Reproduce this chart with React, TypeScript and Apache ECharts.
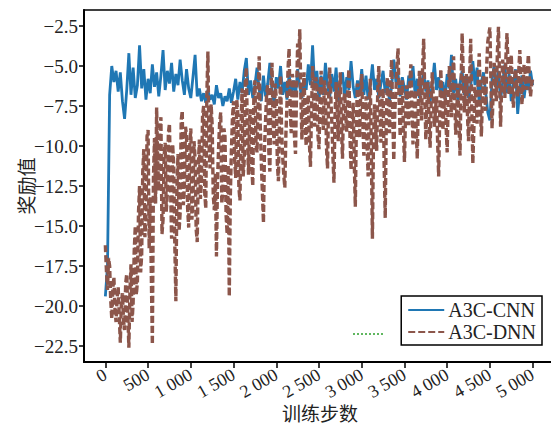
import React, { useEffect, useRef } from "react";
import * as echarts from "echarts";

const cnnValues: number[] = [
  -19.4, -17.5, -6.8, -5.0, -6.0, -5.3, -6.6, -5.4, -7.2, -8.3,
  -6.5, -4.2, -6.8, -5.1, -7.0, -6.2, -3.7, -6.4, -5.2, -7.1,
  -5.8, -6.7, -4.9, -6.3, -5.4, -6.9, -5.6, -4.0, -6.5, -5.3,
  -6.1, -4.8, -6.6, -5.5, -6.2, -4.6, -5.9, -6.8, -5.2, -6.4,
  -7.0, -5.7, -4.3, -6.9, -6.4, -7.2, -6.7, -7.3, -6.5, -7.1,
  -6.8, -7.4, -6.2, -7.0, -6.7, -7.5, -6.9, -7.2, -6.4, -7.3,
  -6.6, -5.8, -7.1, -6.0, -6.7, -5.3, -4.5, -6.8, -5.9, -7.0,
  -6.2, -5.1, -6.5, -7.2, -5.6, -6.9, -6.1, -4.8, -6.6, -7.3,
  -5.7, -6.4, -5.0, -6.8, -6.0, -7.1, -5.5, -6.7, -5.9, -6.9,
  -5.2, -6.3, -7.0, -5.8, -6.5, -4.9, -6.2, -3.7, -6.4, -5.3,
  -7.1, -5.6, -6.8, -4.8, -6.2, -7.0, -5.5, -6.6, -5.1, -7.2,
  -6.0, -5.4, -6.9, -5.7, -6.5, -4.7, -6.3, -7.0, -5.9, -6.6,
  -5.2, -6.8, -5.6, -7.1, -6.2, -4.9, -6.5, -5.8, -7.0, -6.1,
  -5.3, -6.7, -5.9, -7.2, -6.3, -4.6, -6.0, -5.5, -6.9, -5.7,
  -6.4, -7.1, -5.6, -6.2, -5.0, -6.8, -5.8, -7.0, -6.1, -5.4,
  -6.6, -5.9, -7.3, -6.2, -4.8, -6.5, -5.7, -6.9, -6.0, -7.1,
  -5.5, -6.4, -4.3, -6.7, -5.8, -7.2, -6.1, -5.3, -6.8, -5.6,
  -7.0, -6.3, -4.7, -6.2, -5.1, -7.4, -6.0, -5.4, -6.6, -7.9,
  -8.4, -5.8, -5.0, -6.5, -5.3, -7.1, -6.0, -4.9, -6.7, -5.5,
  -7.2, -6.1, -5.2, -8.0, -6.4, -5.6, -7.0, -5.9, -6.5, -5.3,
  -6.2,
];

const dnnValues: number[] = [
  -16.2, -17.8, -19.0, -17.0, -17.5, -19.6, -20.8, -18.9, -18.2, -20.2,
  -21.0, -19.5, -18.8, -20.6, -22.3, -19.8, -19.2, -20.9, -21.5, -18.6,
  -18.0, -20.4, -22.6, -19.1, -17.4, -21.0, -19.8, -16.6, -15.0, -19.3,
  -18.5, -14.2, -12.5, -17.9, -16.8, -11.6, -10.2, -15.7, -14.5, -9.4,
  -9.0, -16.4, -13.2, -18.0, -22.4, -12.0, -9.5, -13.6, -7.6, -11.0,
  -12.8, -9.1, -8.2, -15.5, -14.6, -10.6, -9.8, -14.1, -13.0, -9.2,
  -8.6, -12.4, -15.8, -9.9, -11.2, -16.1, -19.7, -12.7, -10.5, -15.3,
  -14.2, -8.4, -7.8, -13.7, -12.6, -8.8, -9.3, -13.9, -15.1, -10.0,
  -8.9, -14.6, -13.5, -9.7, -10.8, -15.2, -16.0, -11.3, -9.6, -13.3,
  -12.1, -8.1, -7.5, -12.9, -13.9, -6.8, -4.1, -9.9, -11.4, -7.4,
  -8.7, -13.1, -14.0, -11.7, -16.9, -12.2, -10.1, -8.5, -7.9, -13.6,
  -12.8, -8.9, -9.4, -14.3, -15.5, -11.2, -19.4, -13.1, -10.3, -8.2,
  -7.2, -10.8, -12.0, -7.1, -8.0, -12.6, -13.4, -8.6, -6.4, -11.9,
  -10.9, -6.0, -5.1, -9.4, -11.8, -8.3, -7.7, -11.2, -12.5, -7.0,
  -5.9, -9.8, -10.4, -6.9, -4.4, -8.7, -11.0, -12.9, -14.8, -10.1,
  -8.3, -6.7, -6.2, -10.3, -11.6, -6.4, -4.8, -8.5, -9.9, -6.1,
  -7.0, -11.1, -12.2, -8.0, -5.6, -9.0, -10.7, -11.8, -12.6, -9.3,
  -7.4, -5.2, -3.9, -7.6, -9.2, -5.5, -6.0, -9.4, -10.5, -6.6,
  -3.6, -4.8, -2.7, -6.9, -9.6, -7.1, -5.4, -8.6, -10.0, -7.6,
  -6.8, -9.8, -11.3, -7.7, -5.0, -7.2, -8.8, -5.7, -6.3, -9.3,
  -10.2, -6.9, -5.3, -7.8, -9.0, -5.9, -6.5, -10.1, -11.4, -7.0,
  -5.1, -6.8, -8.5, -10.6, -12.3, -8.1, -6.0, -7.5, -9.7, -6.6,
  -5.4, -8.9, -10.8, -7.2, -6.7, -8.0, -9.1, -6.3, -5.2, -9.4,
  -11.5, -8.7, -7.3, -11.0, -13.8, -8.5, -6.1, -7.7, -9.5, -6.8,
  -5.5, -8.6, -10.6, -7.9, -6.9, -9.9, -11.9, -7.5, -5.8, -10.4,
  -15.8, -9.7, -7.4, -8.8, -10.3, -6.5, -5.0, -7.6, -9.8, -7.0,
  -6.4, -11.2, -14.5, -8.3, -5.7, -7.4, -9.2, -6.1, -4.6, -8.0,
  -10.9, -7.8, -6.6, -5.0, -3.9, -7.2, -9.4, -7.6, -5.9, -8.9,
  -11.0, -8.0, -6.2, -7.3, -8.7, -6.0, -4.9, -7.5, -9.9, -7.9,
  -6.5, -9.0, -10.8, -7.1, -5.3, -6.6, -8.4, -5.1, -3.3, -6.7,
  -9.6, -7.4, -6.0, -8.5, -10.1, -7.3, -5.4, -6.9, -8.8, -7.8,
  -6.9, -9.6, -11.9, -8.2, -5.2, -7.0, -9.0, -7.7, -6.4, -8.8,
  -10.4, -7.1, -5.0, -6.3, -8.2, -5.8, -4.4, -7.0, -9.3, -7.7,
  -6.1, -8.4, -10.6, -6.0, -2.95, -5.4, -7.9, -6.6, -5.5, -8.1,
  -9.7, -5.8, -3.3, -7.5, -11.1, -8.9, -6.3, -7.1, -8.6, -5.9,
  -4.2, -7.3, -9.4, -7.0, -5.6, -6.4, -7.8, -5.0, -3.5, -3.0,
  -2.6, -6.2, -8.9, -6.7, -4.8, -6.0, -7.2, -4.1, -2.55, -5.7,
  -8.8, -6.2, -4.6, -5.8, -7.0, -4.4, -2.95, -5.1, -6.8, -5.6,
  -4.3, -6.4, -7.6, -6.1, -5.2, -6.0, -6.9, -5.3, -4.0, -5.9,
  -7.4, -6.2, -4.9, -5.5, -6.5, -5.4, -4.3, -5.8, -6.9, -6.2,
  -5.8,
];

const X_START = 0;
const X_END = 5000;

const xTickValues = [0, 500, 1000, 1500, 2000, 2500, 3000, 3500, 4000, 4500, 5000];
const yTickValues = [-22.5, -20, -17.5, -15, -12.5, -10, -7.5, -5, -2.5];

const seriesNames = ["A3C-CNN", "A3C-DNN"];
const xAxisTitle = "训练步数";
const yAxisTitle = "奖励值";

const SERIF = "Liberation Serif";
const CJK = "Noto Sans CJK SC";

function toPairs(vals: number[]): [number, number][] {
  const step = (X_END - X_START) / (vals.length - 1);
  return vals.map((v, i) => [X_START + i * step, v]);
}

function fmtX(v: number): string {
  const s = String(Math.round(v));
  if (s.length > 3) return s.slice(0, s.length - 3) + " " + s.slice(s.length - 3);
  return s;
}

function fmtY(v: number): string {
  const s = Math.abs(v).toFixed(1);
  return v < 0 ? "\u2212" + s : s;
}

export default function App() {
  const ref = useRef<HTMLDivElement>(null);
  useEffect(() => {
    if (!ref.current) return;
    const chart = echarts.init(ref.current, undefined, { renderer: "svg" });
    chart.setOption({
      animation: false,
      backgroundColor: "#fff",
      textStyle: { fontFamily: SERIF, color: "#222", fontSize: 19 },
      grid: {
        left: 84,
        top: 10,
        right: -3,
        bottom: 62,
        containLabel: false,
        outerBoundsMode: "none",
        show: true,
        borderColor: "#000",
        borderWidth: 1.5,
        backgroundColor: "transparent",
      },
      legend: {
        orient: "vertical",
        right: 9,
        top: 296,
        data: seriesNames,
        borderColor: "#000",
        borderWidth: 1.5,
        borderRadius: 0,
        backgroundColor: "#fff",
        padding: [4, 6, 3, 6],
        itemGap: 2,
        itemWidth: 36,
        itemHeight: 14,
        itemStyle: { opacity: 0 },
        textStyle: { fontFamily: SERIF, fontSize: 20, color: "#222", padding: [0, 0, 0, -1] },
      },
      xAxis: {
        type: "value",
        min: -250,
        max: 5250,
        axisLine: { show: true, onZero: false, lineStyle: { color: "#000", width: 2 } },
        axisTick: {
          show: true,
          inside: false,
          length: 6,
          lineStyle: { color: "#000", width: 1.5 },
          customValues: xTickValues,
        },
        axisLabel: {
          show: true,
          rotate: 30,
          margin: 11,
          fontFamily: SERIF,
          fontSize: 18,
          color: "#222",
          customValues: xTickValues,
          formatter: (v: number) => fmtX(v),
        },
        splitLine: { show: false },
      },
      yAxis: {
        type: "value",
        min: -23.5,
        max: -1.5,
        axisLine: { show: true, onZero: false, lineStyle: { color: "#000", width: 2 } },
        axisTick: {
          show: true,
          inside: false,
          length: 5,
          lineStyle: { color: "#000", width: 1.5 },
          customValues: yTickValues,
        },
        axisLabel: {
          show: true,
          margin: 6,
          fontFamily: SERIF,
          fontSize: 19,
          color: "#222",
          customValues: yTickValues,
          formatter: (v: number) => fmtY(v),
        },
        splitLine: { show: false },
      },
      series: [
        {
          name: seriesNames[0],
          type: "line",
          data: toPairs(cnnValues),
          showSymbol: false,
          symbol: "none",
          color: "#1f77b4",
          lineStyle: { color: "#1f77b4", width: 2.8 },
          z: 2,
        },
        {
          name: seriesNames[1],
          type: "line",
          data: toPairs(dnnValues),
          showSymbol: false,
          symbol: "none",
          color: "#8c564b",
          lineStyle: { color: "#8c564b", width: 3.4, type: [7, 3] },
          z: 3,
        },
      ],
      graphic: [
        {
          type: "line",
          shape: { x1: 353, y1: 334, x2: 383, y2: 334 },
          style: { stroke: "#2ca02c", lineWidth: 1.5, lineDash: [2, 2] },
          z: 10,
        },
        {
          type: "text",
          x: 320,
          y: 412,
          z: 10,
          style: {
            text: xAxisTitle,
            fontFamily: CJK,
            fontSize: 19,
            fill: "#222",
            align: "center",
            verticalAlign: "middle",
            textAlign: "center",
            textVerticalAlign: "middle",
          },
        },
        {
          type: "text",
          x: 25,
          y: 186,
          rotation: Math.PI / 2,
          z: 10,
          style: {
            text: yAxisTitle,
            fontFamily: CJK,
            fontSize: 19,
            fill: "#222",
            align: "center",
            verticalAlign: "middle",
            textAlign: "center",
            textVerticalAlign: "middle",
          },
        },
      ],
    });
    return () => chart.dispose();
  }, []);
  return (
    <div
      ref={ref}
      style={{ position: "fixed", left: 0, top: 0, width: 551, height: 424 }}
    />
  );
}
